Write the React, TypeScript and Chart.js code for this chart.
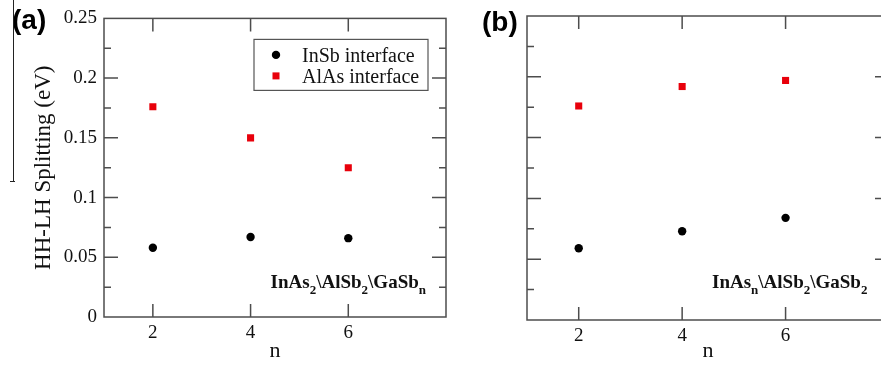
import React, { useEffect, useRef } from "react";
import { Chart, registerables } from "chart.js";

Chart.register(...registerables);

// Layer counts and tick positions
const N_VALUES = [2, 4, 6];
const X_TICKS = [2, 4, 6];
const X_MIN = 1;
const X_MAX = 8;
const Y_MIN = 0;
const Y_MAX = 0.25;
const Y_STEP = 0.05;
const Y_MINOR_STEP = 0.025;

const SERIES_NAMES = ["InSb interface", "AlAs interface"];

// Panel (a): InAs2\AlSb2\GaSbn
const A_INSB = [0.058, 0.067, 0.066];
const A_ALAS = [0.176, 0.15, 0.125];

// Panel (b): InAsn\AlSb2\GaSb2
const B_INSB = [0.059, 0.073, 0.084];
const B_ALAS = [0.176, 0.192, 0.197];

const Y_TITLE = "HH-LH Splitting (eV)";
const X_TITLE = "n";

const SERIF = "'Liberation Serif', 'Times New Roman', serif";
const SANS = "'Liberation Sans', Arial, sans-serif";
const AXIS_COLOR = "#4d4d4d";
const RED = "#e8000b";

type Part = [string, string];

function drawFormula(
  ctx: CanvasRenderingContext2D,
  parts: Part[],
  x: number,
  baseline: number,
  align: "left" | "right"
) {
  const mainFont = `bold 19px ${SERIF}`;
  const subFont = `bold 13px ${SERIF}`;
  let total = 0;
  for (const [main, sub] of parts) {
    ctx.font = mainFont;
    total += ctx.measureText(main).width;
    ctx.font = subFont;
    total += ctx.measureText(sub).width;
  }
  let cx = align === "left" ? x : x - total;
  ctx.fillStyle = "#111";
  ctx.textAlign = "left";
  ctx.textBaseline = "alphabetic";
  for (const [main, sub] of parts) {
    ctx.font = mainFont;
    ctx.fillText(main, cx, baseline);
    cx += ctx.measureText(main).width;
    ctx.font = subFont;
    ctx.fillText(sub, cx, baseline + 6);
    cx += ctx.measureText(sub).width;
  }
}

function drawFrame(chart: Chart) {
  const { ctx, chartArea: ca } = chart;
  const xs = chart.scales.x;
  const ys = chart.scales.y;
  ctx.save();
  ctx.strokeStyle = AXIS_COLOR;
  ctx.lineWidth = 1.5;
  ctx.strokeRect(ca.left, ca.top, ca.right - ca.left, ca.bottom - ca.top);
  ctx.beginPath();
  for (const v of X_TICKS) {
    const px = xs.getPixelForValue(v);
    ctx.moveTo(px, ca.bottom);
    ctx.lineTo(px, ca.bottom - 13);
    ctx.moveTo(px, ca.top);
    ctx.lineTo(px, ca.top + 13);
  }
  const count = Math.round((Y_MAX - Y_MIN) / Y_MINOR_STEP);
  for (let i = 1; i < count; i++) {
    const v = Y_MIN + i * Y_MINOR_STEP;
    const len = i % 2 === 0 ? 14 : 7;
    const py = ys.getPixelForValue(v);
    ctx.moveTo(ca.left, py);
    ctx.lineTo(ca.left + len, py);
    ctx.moveTo(ca.right, py);
    ctx.lineTo(ca.right - len, py);
  }
  ctx.stroke();
  ctx.restore();
}

function drawLegend(chart: Chart) {
  const { ctx, chartArea: ca } = chart;
  const bx = ca.left + 150;
  const by = ca.top + 21;
  const bw = 174;
  const bh = 51;
  ctx.save();
  ctx.fillStyle = "#fff";
  ctx.fillRect(bx, by, bw, bh);
  ctx.strokeStyle = "#555";
  ctx.lineWidth = 1.2;
  ctx.strokeRect(bx, by, bw, bh);
  const rows = [
    { y: by + 15.5, color: "#000", shape: "circle" },
    { y: by + 36.5, color: RED, shape: "rect" },
  ];
  rows.forEach((r, i) => {
    ctx.fillStyle = r.color;
    if (r.shape === "circle") {
      ctx.beginPath();
      ctx.arc(bx + 22, r.y, 4.2, 0, Math.PI * 2);
      ctx.fill();
    } else {
      ctx.fillRect(bx + 22 - 3.5, r.y - 3.5, 7, 7);
    }
    ctx.fillStyle = "#111";
    ctx.font = `20px ${SERIF}`;
    ctx.textAlign = "left";
    ctx.textBaseline = "alphabetic";
    ctx.fillText(SERIES_NAMES[i], bx + 48, r.y + 7);
  });
  ctx.restore();
}

function drawTag(ctx: CanvasRenderingContext2D, text: string, x: number, y: number) {
  ctx.save();
  ctx.fillStyle = "#000";
  ctx.font = `bold 28px ${SANS}`;
  ctx.textAlign = "left";
  ctx.textBaseline = "alphabetic";
  ctx.fillText(text, x, y);
  ctx.restore();
}

// 0.2 rather than 0.20, as on the printed axis
const formatY = (v: number) => String(parseFloat(Number(v).toFixed(3)));

type PanelSpec = {
  insb: number[];
  alas: number[];
  yAxisWidth: number;
  xAxisHeight: number;
  padRight: number;
  showYLabels: boolean;
  decorate: (chart: Chart) => void;
};

function makeConfig(spec: PanelSpec): any {
  const tickFont = { family: SERIF, size: 19 };
  return {
    type: "scatter",
    data: {
      datasets: [
        {
          label: SERIES_NAMES[0],
          data: N_VALUES.map((n, i) => ({ x: n, y: spec.insb[i] })),
          pointStyle: "circle",
          pointRadius: 4.2,
          pointBackgroundColor: "#000",
          pointBorderWidth: 0,
          showLine: false,
        },
        {
          label: SERIES_NAMES[1],
          data: N_VALUES.map((n, i) => ({ x: n, y: spec.alas[i] })),
          pointStyle: "rect",
          pointRadius: 5,
          pointBackgroundColor: RED,
          pointBorderWidth: 0,
          showLine: false,
        },
      ],
    },
    options: {
      animation: false,
      responsive: false,
      devicePixelRatio: 1,
      events: [],
      layout: { padding: { top: 16, right: spec.padRight, left: 0, bottom: 0 } },
      plugins: { legend: { display: false }, tooltip: { enabled: false } },
      scales: {
        x: {
          type: "linear",
          min: X_MIN,
          max: X_MAX,
          afterBuildTicks: (s: any) => {
            s.ticks = X_TICKS.map((v) => ({ value: v }));
          },
          afterFit: (s: any) => {
            s.height = spec.xAxisHeight;
          },
          grid: { display: false, drawTicks: false },
          border: { display: false },
          ticks: { font: tickFont, color: "#111", padding: 4.5, maxRotation: 0 },
          title: {
            display: true,
            text: X_TITLE,
            font: { family: SERIF, size: 22 },
            color: "#111",
            padding: { top: 0, bottom: 1 },
          },
        },
        y: {
          type: "linear",
          min: Y_MIN,
          max: Y_MAX,
          afterFit: (s: any) => {
            s.width = spec.yAxisWidth;
          },
          grid: { display: false, drawTicks: false },
          border: { display: false },
          ticks: {
            stepSize: Y_STEP,
            font: tickFont,
            color: "#111",
            padding: 7,
            display: spec.showYLabels,
            callback: (v: number) => formatY(v),
          },
          title: {
            display: spec.showYLabels,
            text: Y_TITLE,
            font: { family: SERIF, size: 23 },
            color: "#111",
            padding: { top: 30, bottom: 0 },
          },
        },
      },
    },
    plugins: [
      {
        id: "panelFrame",
        beforeDatasetsDraw: (chart: Chart) => drawFrame(chart),
        afterDraw: (chart: Chart) => spec.decorate(chart),
      },
    ],
  };
}

export default function App() {
  const refA = useRef<HTMLCanvasElement>(null);
  const refB = useRef<HTMLCanvasElement>(null);

  useEffect(() => {
    document.body.style.margin = "0";
    const chartA = new Chart(
      refA.current!,
      makeConfig({
        insb: A_INSB,
        alas: A_ALAS,
        yAxisWidth: 104,
        xAxisHeight: 48,
        padRight: 24,
        showYLabels: true,
        decorate: (chart) => {
          const { ctx, chartArea: ca } = chart;
          drawLegend(chart);
          drawFormula(
            ctx,
            [
              ["InAs", "2"],
              ["\\AlSb", "2"],
              ["\\GaSb", "n"],
            ],
            ca.right - 20,
            ca.bottom - 29,
            "right"
          );
          drawTag(ctx, "(a)", 12, 29);
          // thin rule along the left edge of the figure
          ctx.save();
          ctx.strokeStyle = "#222";
          ctx.lineWidth = 1;
          ctx.beginPath();
          ctx.moveTo(13.5, 0);
          ctx.lineTo(13.5, 182);
          ctx.moveTo(10, 181.5);
          ctx.lineTo(15, 181.5);
          ctx.stroke();
          ctx.restore();
        },
      })
    );
    const chartB = new Chart(
      refB.current!,
      makeConfig({
        insb: B_INSB,
        alas: B_ALAS,
        yAxisWidth: 77,
        xAxisHeight: 45,
        padRight: 61,
        showYLabels: false,
        decorate: (chart) => {
          const { ctx, chartArea: ca } = chart;
          drawFormula(
            ctx,
            [
              ["InAs", "n"],
              ["\\AlSb", "2"],
              ["\\GaSb", "2"],
            ],
            ca.left + 185,
            ca.bottom - 32,
            "left"
          );
          drawTag(ctx, "(b)", 32, 31);
        },
      })
    );
    return () => {
      chartA.destroy();
      chartB.destroy();
    };
  }, []);

  return (
    <div
      style={{
        position: "fixed",
        left: 0,
        top: 0,
        width: 881,
        height: 365,
        overflow: "hidden",
        background: "#fff",
      }}
    >
      <canvas
        ref={refA}
        width={470}
        height={365}
        style={{ position: "absolute", left: 0, top: 0, width: 470, height: 365 }}
      />
      <canvas
        ref={refB}
        width={500}
        height={365}
        style={{ position: "absolute", left: 450, top: 0, width: 500, height: 365 }}
      />
    </div>
  );
}
